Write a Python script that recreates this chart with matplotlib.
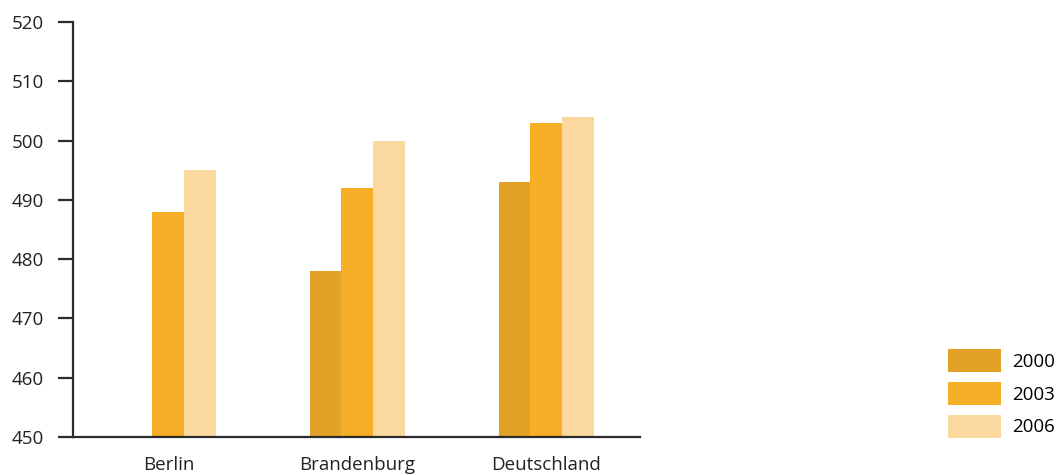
import numpy as np
import matplotlib.pyplot as plt

regionen = ['Berlin', 'Brandenburg', 'Deutschland']
jahre = ['2000', '2003', '2006']
werte_2000 = [np.nan, 478, 493]
werte_2003 = [488, 492, 503]
werte_2006 = [495, 500, 504]
farben = ['#E3A225', '#F5AE25', '#FAD89E']

plt.rcParams['font.family'] = ['Open Sans', 'DejaVu Sans']

fig = plt.figure(figsize=(10.59, 4.75), dpi=100)
ax = fig.add_axes([73/1059, 38/475, (640-73)/1059, (437-22)/475])

x = np.arange(len(regionen))
breite = 0.169
for i, (werte, jahr, farbe) in enumerate(zip([werte_2000, werte_2003, werte_2006], jahre, farben)):
    ax.bar(x + (i - 1)*breite, np.array(werte, dtype=float) - 450, width=breite,
           bottom=450, color=farbe, label=jahr, linewidth=0, zorder=2)

ax.set_xlim(-0.505, 2.495)
ax.set_ylim(450, 520)
ax.set_yticks(np.arange(450, 521, 10))
ax.set_xticks(x)
ax.set_xticklabels(regionen)

for s in ['top', 'right']:
    ax.spines[s].set_visible(False)
for s in ['left', 'bottom']:
    ax.spines[s].set_color('#2b2b2b')
    ax.spines[s].set_linewidth(1.6)
    ax.spines[s].set_zorder(3)

ax.tick_params(axis='y', length=11, width=1.6, color='#2b2b2b', pad=10,
               labelsize=13.5, labelcolor='#222222')
ax.tick_params(axis='x', length=0, pad=14, labelsize=13.5, labelcolor='#222222')

fig.legend(loc='lower left', bbox_to_anchor=(948/1059, 37/475), frameon=False,
           fontsize=13.5, handlelength=2.8, handleheight=1.55, labelspacing=0.5,
           handletextpad=0.6, borderpad=0, borderaxespad=0)

fig.savefig('out.png', dpi=100)
